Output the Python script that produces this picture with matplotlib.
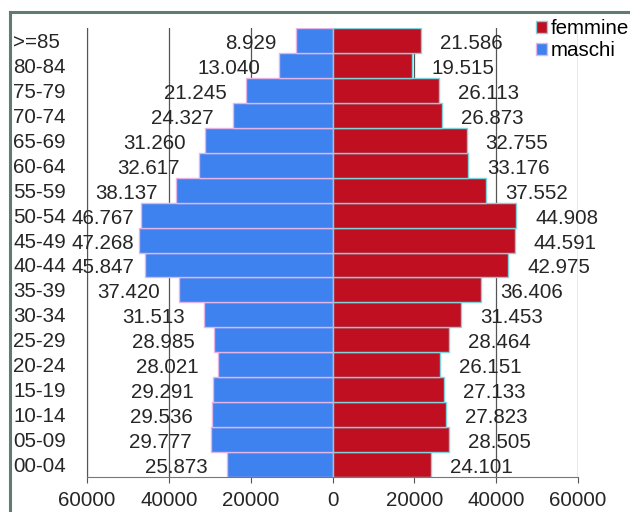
import matplotlib
matplotlib.use("Agg")
import matplotlib.pyplot as plt
from matplotlib.lines import Line2D

# fasce d'eta, dal basso verso l'alto
classi = ["00-04", "05-09", "10-14", "15-19", "20-24", "25-29", "30-34",
          "35-39", "40-44", "45-49", "50-54", "55-59", "60-64", "65-69",
          "70-74", "75-79", "80-84", ">=85"]
maschi = [25873, 29777, 29536, 29291, 28021, 28985, 31513, 37420, 45847,
          47268, 46767, 38137, 32617, 31260, 24327, 21245, 13040, 8929]
femmine = [24101, 28505, 27823, 27133, 26151, 28464, 31453, 36406, 42975,
           44591, 44908, 37552, 33176, 32755, 26873, 26113, 19515, 21586]
xticks = [-60000, -40000, -20000, 0, 20000, 40000, 60000]

plt.rcParams['font.family'] = ['Liberation Sans', 'DejaVu Sans']
fs = 14.8
blu = '#3d82ef'
rosso = '#c10f22'
testo = '#262626'


def fmt(v):
    return f"{v:,}".replace(",", ".")


fig = plt.figure(figsize=(6.3, 5.12), dpi=100)
ax = fig.add_axes([87 / 630, 1 - 477 / 512, 491 / 630, 449 / 512])

y = list(range(len(classi)))
ax.grid(axis='x', color='#555555', linewidth=0.9, zorder=0)
ax.set_axisbelow(True)

b_m = ax.barh(y, [-v for v in maschi], height=1.0, color=blu,
              edgecolor='#e3b4e6', linewidth=1.0, label='maschi', zorder=2)
b_f = ax.barh(y, femmine, height=1.0, color=rosso,
              edgecolor='#7fd3dd', linewidth=1.0, label='femmine', zorder=2)

off = 4650
for i in y:
    xm = max(-(maschi[i] + off), -48500)
    ax.text(xm, i - 0.12, fmt(maschi[i]), ha='right', va='center',
            fontsize=fs, color=testo, zorder=3)
    ax.text(femmine[i] + off, i - 0.12, fmt(femmine[i]), ha='left',
            va='center', fontsize=fs, color=testo, zorder=3, clip_on=False)

ax.set_xlim(-60000, 60000)
ax.set_ylim(-0.5, len(classi) - 0.5)
ax.set_xticks(xticks)
ax.set_xticklabels([str(abs(t)) for t in xticks], fontsize=fs, color=testo)
ax.set_yticks(y)
ax.set_yticklabels(classi, fontsize=fs, color=testo, ha='left')
ax.tick_params(axis='y', length=0, pad=53)
ax.tick_params(axis='x', length=4, color='#555555', pad=6)

for s in ['top', 'right']:
    ax.spines[s].set_visible(False)
ax.spines['left'].set_color('#555555')
ax.spines['bottom'].set_color('#777777')

ax.legend(handles=[b_f, b_m], loc='upper left',
          bbox_to_anchor=(536 / 630, 1 - 19 / 512),
          bbox_transform=fig.transFigure, frameon=False, fontsize=fs,
          handlelength=0.55, handleheight=0.55, handletextpad=0.15,
          borderpad=0, borderaxespad=0, labelspacing=0.15)

# cornice esterna
fig.add_artist(Line2D([10 / 630, 1], [1 - 12 / 512, 1 - 12 / 512],
                      transform=fig.transFigure, color='#627a74', lw=2.2))
fig.add_artist(Line2D([10 / 630, 10 / 630], [0, 1 - 12 / 512],
                      transform=fig.transFigure, color='#627a74', lw=2.2))

fig.savefig("out.png", dpi=100, facecolor='white')
